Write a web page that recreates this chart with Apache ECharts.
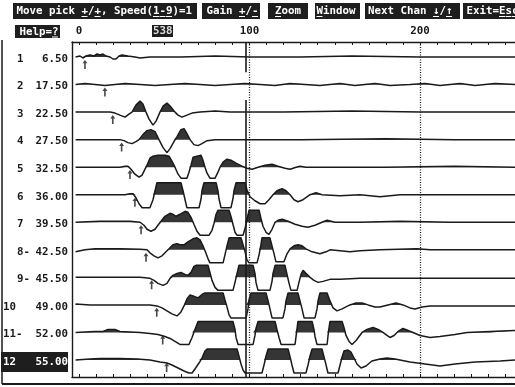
<!DOCTYPE html>
<html><head><meta charset="utf-8">
<script src="https://cdn.jsdelivr.net/npm/echarts@6/dist/echarts.min.js"></script>
<style>html,body{margin:0;padding:0;background:#fff;overflow:hidden}#c{width:515px;height:387px}</style>
</head><body><div id="c"></div>
<script>
// ---- data ----
const channels = ['1','2','3','4','5','6','7','8-','9-','10','11-','12'];
const offsets  = ['6.50','17.50','22.50','27.50','32.50','36.00','39.50','42.50','45.50','49.00','52.00','55.00'];
const picks    = [3.5,15.2,19.8,25,29.9,32.8,36.4,39.3,42.6,45.6,49.1,51.4];
const xTickValues  = [0,10,20,30,40,50,60,70,80,90,100,110,120,130,140,150,160,170,180,190,200,210,220,230,240,250];
const xLabelValues = [0,100,200];
const gridLineValues = [100,200];
const cursorValue = 97.7;
const pickNumber = '538';
const activeChannel = 12;

// traces: [time, amplitude]  (amplitude counts, clip ~ +/-12)
const trace1 = [[-2,0],[0.6,1],[2.3,-1],[4.1,1],[6.5,2],[8.8,1],[10.6,3],[12.3,2],[14.1,3],[15.8,1],[18.2,0],[19.9,-2],[21.7,-2],[23.5,1],[25.2,2],[28.7,1],[32.8,0],[35.8,-1],[41.6,0],[60,0],[80,1],[100,0],[130,0],[160,1],[200,0],[230,0],[255.7,0]];
const trace2 = [[-2,0],[3.5,1],[9.4,0],[15.2,-1],[21.1,0],[27,1],[35.8,0],[44.6,-1],[53.4,0],[62.2,1],[71,0],[79.8,-1],[88.6,0],[97.4,1],[106.2,0],[115,-1],[123.8,1],[132.6,0],[141.3,-1],[153,1],[161.8,-1],[173.6,1],[182.4,-1],[194.1,0],[203,1],[211.7,-1],[223.5,1],[232.3,-1],[244,1],[255.7,0]];
const trace3 = [[-2,0],[18.2,0],[21.1,-1],[24,-3],[27,-5],[29.3,-2],[31.1,0],[33.4,7],[35.8,11],[37.5,8],[39.3,0],[41.1,-7],[43.4,-13],[45.2,-9],[47.5,0],[49.3,6],[51.6,9],[54,5],[56.3,0],[58.1,-3],[60.4,-5],[63.3,-3],[66.3,-1],[71,0],[79.8,1],[88.6,0],[120,0],[160,1],[200,0],[255.7,0]];
const trace4 = [[-2,0],[24,0],[26.4,-1],[28.7,-3],[31.1,-4],[33.4,-2],[35.2,0],[37.5,5],[39.9,9],[42.2,10],[44.6,8],[46.9,0],[49.3,-8],[51.6,-13],[53.4,-9],[55.7,-2],[57.5,3],[59.8,10],[61.6,11],[63.3,6],[65.1,0],[67.4,-5],[69.8,-6],[72.1,-4],[75.1,-1],[79.8,0],[130,0],[180,1],[220,0],[255.7,0]];
const trace5 = [[-2,0],[24,0],[27,1],[28.7,1],[30.5,-2],[32.8,-7],[35.2,-10],[37,-8],[38.7,-2],[39.9,2],[41.6,9],[43.4,11],[46.3,12],[50.4,12],[52.8,11],[54.5,6],[56.3,0],[58.1,-7],[59.8,-11],[63.3,-11],[64.5,-5],[65.7,2],[66.9,10],[68,12],[71.6,12],[72.7,7],[73.9,0],[75.1,-6],[76.8,-11],[79.8,-11],[81.5,-5],[82.7,0],[84.5,5],[86.8,8],[89.1,7],[92.1,4],[95.6,1],[98.5,-1],[101.5,-2],[105,0],[109.1,2],[113.2,3],[116.7,1],[120.8,-1],[123.8,-2],[127.3,0],[129.6,1],[133.1,0],[180,0],[220,1],[255.7,0]];
const trace6 = [[-2,0],[27,0],[29.9,1],[31.7,1],[33.4,-3],[35.2,-9],[37,-13],[41.6,-13],[43.4,-5],[44.6,4],[45.7,12],[59.8,12],[61,4],[62.2,-5],[63.3,-13],[70.4,-13],[71.6,-4],[72.1,4],[73.3,12],[80.4,12],[81.5,4],[82.1,-4],[83.3,-13],[89.1,-13],[90.3,-4],[90.9,4],[92.1,12],[97.4,12],[98.5,5],[100.3,-2],[103.2,-6],[106.2,-9],[109.1,-9],[111.4,-5],[113.8,0],[116.1,4],[119.1,6],[121.4,4],[123.8,0],[126.1,-5],[128.4,-7],[131.4,-5],[135.5,0],[139,2],[142.5,0],[153.1,-1],[164.8,0],[176.5,-2],[188.3,0],[211.7,0],[255.7,0]];
const trace7 = [[-2,0],[12.3,1],[29.9,1],[35.8,0],[38.1,-3],[39.9,-7],[42.2,-9],[44.6,-7],[46.3,-3],[48.1,1],[50.4,6],[53.4,9],[55.1,8],[56.9,6],[59.2,8],[62.2,11],[63.9,10],[65.7,5],[67.4,-2],[69.2,-9],[71,-13],[76.2,-13],[78,-8],[79.2,-1],[80.4,8],[81.5,12],[88,12],[89.1,6],[90.3,-2],[91.5,-10],[92.7,-13],[96.2,-13],[97.4,-6],[98.5,2],[99.7,12],[105.6,12],[106.7,4],[107.9,-4],[109.7,-10],[111.4,-12],[113.2,-7],[115,0],[116.7,2],[119.1,3],[122.6,1],[126.7,-2],[130.8,-4],[134.3,-5],[138.4,-3],[142.5,0],[145.5,2],[150.1,0],[164.8,0],[188.3,1],[217.6,0],[255.7,0]];
const trace8 = [[-2,-2],[3.5,0],[9.4,1],[24,1],[35.8,0.5],[39.9,0],[41.6,-3],[44,-6],[46.3,-8],[48.7,-6],[51,-2],[52.8,1],[55.1,5],[57.5,6],[59.2,5],[61.6,5],[63.9,8],[66.9,11],[69.2,12],[71,10],[72.7,4],[73.9,-1],[75.7,-9],[76.8,-13],[84.5,-13],[85.6,-5],[86.8,4],[88,12],[95,12],[96.2,5],[97.4,-2],[98.5,-10],[99.7,-13],[104.4,-13],[105.6,-5],[106.7,5],[107.3,12],[112,12],[113.2,4],[114.4,-4],[115.5,-12],[120.2,-12],[122,-4],[123.8,1],[126.1,4],[128.4,5],[130.8,4],[133.1,1],[136.7,-2],[141.3,-4],[144.9,-2],[147.2,0],[153.1,-1],[158.9,-2],[164.8,-1],[176.5,0],[198.2,1],[205.9,0],[255.7,0]];
const trace9 = [[-2,0],[35.8,0],[41.6,-1],[44,-3],[46.3,-6],[49.3,-8],[51.6,-6],[53.4,-1],[55.1,2],[57.5,4],[59.8,5],[62.2,3],[63.9,2],[65.7,5],[67.4,11],[68.6,12],[75.7,12],[76.8,5],[78,-3],[79.8,-10],[81.5,-13],[90.3,-13],[91.5,-5],[92.7,4],[93.8,12],[102.1,12],[103.2,4],[103.8,-5],[105,-13],[112,-13],[113.2,-4],[113.8,4],[115,12],[120.8,12],[122,3],[123.2,-6],[124.3,-13],[127.9,-13],[129,-5],[130.2,3],[131.4,7],[133.1,4],[135.5,0],[137.8,-3],[140.2,-5],[143.1,-4],[147.2,-2],[153.1,-2],[164.8,-1],[188.3,-1],[255.7,-1]];
const trace10 = [[-2,1],[6.5,0],[41.6,0],[45.7,-1],[48.7,-3],[51.6,-6],[54.5,-9],[57.5,-11],[59.8,-7],[61.6,-1],[63.3,6],[65.1,10],[66.9,9],[69.8,7],[72.7,11],[73.9,12],[84.5,12],[85.6,5],[86.8,-2],[88,-10],[89.1,-13],[98,-13],[99.1,-4],[99.7,5],[100.9,12],[109.7,12],[110.9,4],[112,-4],[113.2,-13],[119.6,-13],[120.8,-4],[121.4,4],[122.6,12],[128.4,12],[129.6,4],[130.8,-4],[132,-13],[138.4,-13],[139.6,-4],[140.2,4],[141.3,12],[145.5,12],[147.2,4],[149,-3],[151.3,-6],[154.3,-4],[158.9,0],[162.5,2],[166,2],[169.5,0],[173.6,-2],[176.5,-2],[181.2,0],[185.9,2],[190,0],[194.1,-3],[197.1,-4],[201.2,-2],[205.9,-1],[255.7,-1]];
const trace11 = [[-2,0],[3.5,0.5],[9.4,1],[14.1,1],[17,3],[21.1,3],[24,1],[29.9,0.5],[35.8,0],[41.6,-1],[46.3,-2],[50.4,-4],[53.4,-6],[56.3,-9],[59.2,-12],[64.5,-12],[66.3,-5],[68,3],[69.8,11],[90.3,11],[91.5,3],[92.1,-5],[93.3,-12],[102.1,-12],[103.2,-3],[103.8,4],[105,11],[115,11],[116.1,3],[117.3,-5],[118.5,-12],[126.7,-12],[127.3,-4],[127.9,4],[128.4,11],[136.7,11],[137.8,3],[138.4,-4],[139.6,-12],[145.5,-12],[146,-4],[146.6,4],[147.2,11],[154.3,11],[155.4,5],[156.6,-3],[158.4,-9],[160.1,-12],[162.5,-8],[166,0],[168.9,3],[172.4,5],[175.4,3],[178.3,0],[180.6,-3],[182.4,-5],[184.8,-3],[187.1,1],[190,4],[193,2],[195.9,0],[200,-3],[205.9,-5],[211.7,-4],[220.5,-2],[227.6,0],[241.1,1],[255.7,2]];
const trace12 = [[-2,0],[6.5,1],[12.3,1.5],[24,1.5],[34,1],[41.6,0],[47.5,-2],[51.6,-3],[54.5,-5],[58.1,-8],[61.6,-11],[64.5,-13],[66.3,-13],[68,-9],[70.4,-3],[72.1,2],[73.9,9],[75.1,11],[92.7,11],[93.8,4],[95,-4],[96.2,-10],[97.4,-13],[107.3,-13],[108.5,-5],[109.7,4],[110.9,11],[122.6,11],[123.8,3],[124.9,-5],[126.1,-13],[133.1,-13],[134.3,-5],[135.5,4],[136.7,11],[142.5,11],[143.7,3],[144.9,-5],[146,-13],[151.9,-13],[153.1,-5],[154.3,3],[155.4,9],[157.8,10],[159.5,8],[161.3,2],[163,-4],[165.4,-8],[168.3,-6],[171.8,-1],[176.5,1],[180.6,2],[185.3,1],[194.1,-2],[203,-4],[211.7,-6],[220.5,-4],[232.3,-2],[247,-1],[255.7,0]];
const traces = [trace1,trace2,trace3,trace4,trace5,trace6,trace7,trace8,trace9,trace10,trace11,trace12];

// ---- display settings ----
const GAIN = 1/27.55;           // trace spacings per amplitude count
const X_MIN = -4.1, X_MAX = 255.7;
const Y_MIN = 0.4554, Y_MAX = 12.617;
const INK = '#1a1a1a', FILL = '#353535';
const FONT = 'bold 10.8px "DejaVu Sans Mono"';
const CW = 6.5;

function positivePart(tr){
  const out=[];
  for(let i=0;i<tr.length;i++){
    const [x,a]=tr[i];
    if(i>0){const [x0,a0]=tr[i-1];
      if((a0>0&&a<0)||(a0<0&&a>0)){const t=a0/(a0-a);out.push([x0+t*(x-x0),0]);}}
    out.push([x,Math.max(a,0)]);
  }
  return out;
}

const series=[];
traces.forEach((tr,i)=>{
  const k=i+1;
  series.push({type:'line',data:positivePart(tr).map(([x,a])=>[x,k-a*GAIN]),symbol:'none',silent:true,
    lineStyle:{opacity:0,width:0},areaStyle:{color:FILL,opacity:1,origin:k},z:2,animation:false});
  series.push({type:'line',data:tr.map(([x,a])=>[x,k-a*GAIN]),symbol:'none',silent:true,
    lineStyle:{color:INK,width:1.5},z:3,animation:false});
});
series.push({type:'scatter',data:picks.map((p,i)=>[p,i+1+0.27]),
  symbol:'path://M2.5,0 L5,3.4 L3.3,3.4 L3.3,9 L1.7,9 L1.7,3.4 L0,3.4 Z',symbolSize:[5,9],
  itemStyle:{color:INK},z:4,silent:true,animation:false,
  markLine:{silent:true,symbol:'none',label:{show:false},animation:false,
    data:[
      ...gridLineValues.map(v=>({xAxis:v,lineStyle:{type:[1,1.5],color:INK,width:1.3}})),
      [{coord:[cursorValue,Y_MIN],lineStyle:{type:'solid',color:INK,width:1.6}},{coord:[cursorValue,1.55]}],
      [{coord:[cursorValue,2.56],lineStyle:{type:'solid',color:INK,width:1.6}},{coord:[cursorValue,Y_MAX]}]
    ]}});

const axisCommon={type:'value',min:X_MIN,max:X_MAX,splitLine:{show:false},
  axisLine:{show:true,onZero:false,lineStyle:{color:INK,width:1.4}},
  axisTick:{show:true,inside:true,length:3,customValues:xTickValues,lineStyle:{color:INK,width:1}}};

const chart=echarts.init(document.getElementById('c'),null,{renderer:'canvas'});
chart.setOption({
  animation:false,backgroundColor:'#fff',
  grid:{left:72,right:0,top:42,bottom:10},
  xAxis:[
    Object.assign({},axisCommon,{position:'top',
      axisLabel:{show:true,customValues:xLabelValues,margin:5,color:INK,fontFamily:'DejaVu Sans Mono',fontWeight:'bold',fontSize:10.8}}),
    Object.assign({},axisCommon,{position:'bottom',axisLabel:{show:false}})
  ],
  yAxis:{type:'value',inverse:true,min:Y_MIN,max:Y_MAX,splitLine:{show:false},axisTick:{show:false},axisLabel:{show:false},
    axisLine:{show:true,onZero:false,lineStyle:{color:INK,width:1.4}}},
  series
});

// ---- screen furniture ----
function box(x,y,w,h,txt,tx,ul,fg){
  const els=[{type:'rect',shape:{x,y,width:w,height:h},style:{fill:'#1e1e1e'},silent:true},
    {type:'text',style:{text:txt,x:tx,y:y+h/2+0.5,font:FONT,fill:fg||'#fff',textVerticalAlign:'middle'},silent:true}];
  (ul||[]).forEach(i=>els.push({type:'line',shape:{x1:tx+i*CW,y1:y+h/2+5.5,x2:tx+(i+1)*CW-0.5,y2:y+h/2+5.5},style:{stroke:fg||'#fff',lineWidth:1},silent:true}));
  return els;
}
const g=[];
g.push(...box(13,3,184,16,'Move pick +/+, Speed(1-9)=1',16.5,[10,12,21,22,23]));
g.push(...box(202,3,58,16,'Gain +/-',206.5,[5,7]));
g.push(...box(268,3,40,16,'Zoom',275,[0]));
g.push(...box(315,3,45,16,'Window',316.5,[0]));
g.push(...box(365,3,95,16,'Next Chan ↓/↑',368,[10,12]));
g.push(...box(463,3,60,16,'Exit=Esc',466.5,[5,6,7]));
g.push(...box(15,25,45,13,'Help=?',19.5,[5]));
g.push(...box(152,25,21,12,pickNumber,153,[],'#ddd'));
// panel borders
g.push({type:'line',shape:{x1:2,y1:40,x2:2,y2:384},style:{stroke:INK,lineWidth:1.5},silent:true});
g.push({type:'line',shape:{x1:2,y1:384,x2:515,y2:384},style:{stroke:INK,lineWidth:2},silent:true});
// channel labels
channels.forEach((c,i)=>{
  const k=i+1;
  const py=chart.convertToPixel({yAxisIndex:0},k)+2;
  const active=(k===activeChannel);
  if(active) g.push({type:'rect',shape:{x:1,y:py-10,width:67,height:20},style:{fill:'#1e1e1e'},silent:true});
  const col=active?'#fff':INK;
  g.push({type:'text',style:{text:c,x:c.replace('-','').length>1?3:17,y:py,font:FONT,fill:col,textVerticalAlign:'middle'},silent:true});
  g.push({type:'text',style:{text:offsets[i],x:68,y:py,font:FONT,fill:col,textAlign:'right',textVerticalAlign:'middle'},silent:true});
});
chart.setOption({graphic:{elements:g}});
</script></body></html>
